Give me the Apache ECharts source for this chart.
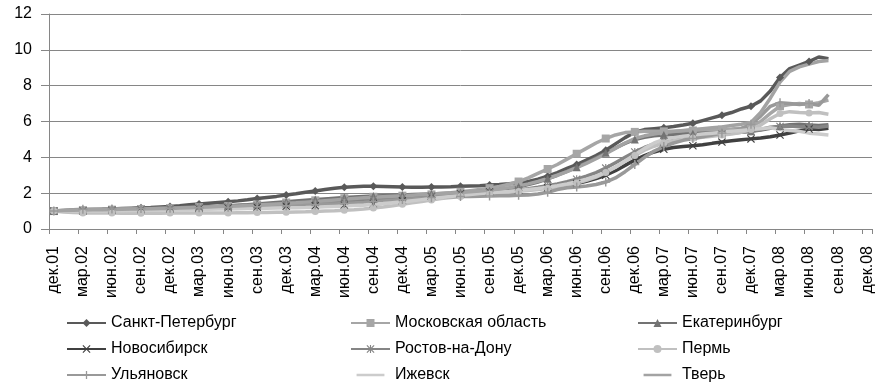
<!DOCTYPE html>
<html>
<head>
<meta charset="utf-8">
<script src="https://cdn.jsdelivr.net/npm/echarts@6/dist/echarts.min.js"></script>
<style>
html,body{margin:0;padding:0;background:#fff;}
#chart{width:890px;height:386px;}
</style>
</head>
<body>
<div id="chart"></div>
<script>
const categories = [
'дек.01',
'янв.02','фев.02','мар.02','апр.02','май.02','июн.02','июл.02','авг.02','сен.02','окт.02','ноя.02','дек.02',
'янв.03','фев.03','мар.03','апр.03','май.03','июн.03','июл.03','авг.03','сен.03','окт.03','ноя.03','дек.03',
'янв.04','фев.04','мар.04','апр.04','май.04','июн.04','июл.04','авг.04','сен.04','окт.04','ноя.04','дек.04',
'янв.05','фев.05','мар.05','апр.05','май.05','июн.05','июл.05','авг.05','сен.05','окт.05','ноя.05','дек.05',
'янв.06','фев.06','мар.06','апр.06','май.06','июн.06','июл.06','авг.06','сен.06','окт.06','ноя.06','дек.06',
'янв.07','фев.07','мар.07','апр.07','май.07','июн.07','июл.07','авг.07','сен.07','окт.07','ноя.07','дек.07',
'янв.08','фев.08','мар.08','апр.08','май.08','июн.08','июл.08','авг.08','сен.08','окт.08','ноя.08','дек.08'
];

const seriesNames = ['Санкт-Петербург','Московская область','Екатеринбург','Новосибирск','Ростов-на-Дону','Пермь','Ульяновск','Ижевск','Тверь'];

const spb = [1.00,1.02,1.05,1.07,1.09,1.10,1.12,1.14,1.16,1.18,1.20,1.23,1.26,
1.30,1.35,1.40,1.44,1.48,1.52,1.57,1.63,1.70,1.76,1.82,1.90,
1.97,2.05,2.12,2.20,2.28,2.33,2.36,2.38,2.38,2.37,2.36,2.34,
2.33,2.33,2.34,2.35,2.36,2.38,2.40,2.42,2.45,2.48,2.52,2.57,
2.65,2.78,2.95,3.15,3.38,3.60,3.85,4.10,4.40,4.75,5.10,5.40,
5.55,5.60,5.65,5.72,5.80,5.90,6.05,6.20,6.35,6.50,6.70,6.85,
7.15,7.70,8.45,8.95,9.15,9.35,9.60,9.50];

const moscow = [1.00,1.02,1.04,1.05,1.06,1.07,1.08,1.09,1.10,1.11,1.12,1.14,1.16,
1.18,1.20,1.22,1.24,1.26,1.28,1.31,1.34,1.37,1.40,1.44,1.48,
1.52,1.56,1.60,1.64,1.68,1.72,1.75,1.78,1.80,1.82,1.84,1.86,
1.88,1.90,1.93,1.97,2.02,2.08,2.14,2.20,2.28,2.38,2.50,2.65,
2.85,3.10,3.35,3.60,3.90,4.20,4.50,4.80,5.05,5.25,5.38,5.42,
5.45,5.45,5.45,5.45,5.48,5.50,5.50,5.52,5.55,5.58,5.62,5.72,
6.00,6.45,6.85,6.95,7.00,6.95,7.05,7.20];

const ekb = [1.00,1.01,1.03,1.04,1.05,1.06,1.08,1.09,1.10,1.12,1.13,1.15,1.17,
1.19,1.21,1.23,1.25,1.27,1.30,1.33,1.36,1.40,1.44,1.48,1.52,
1.56,1.60,1.64,1.68,1.72,1.76,1.79,1.82,1.84,1.86,1.88,1.90,
1.92,1.94,1.96,1.98,2.00,2.03,2.06,2.10,2.14,2.20,2.27,2.36,
2.48,2.62,2.80,3.00,3.22,3.45,3.70,3.98,4.25,4.52,4.78,5.00,
5.12,5.20,5.25,5.28,5.30,5.32,5.34,5.36,5.38,5.40,5.42,5.45,
5.52,5.62,5.75,5.82,5.85,5.80,5.78,5.82];

const nsk = [1.00,1.00,1.01,1.02,1.03,1.04,1.05,1.06,1.07,1.08,1.09,1.10,1.12,
1.13,1.14,1.15,1.16,1.17,1.18,1.20,1.21,1.22,1.23,1.25,1.27,
1.28,1.29,1.30,1.31,1.32,1.33,1.35,1.37,1.40,1.44,1.50,1.58,
1.66,1.74,1.82,1.88,1.93,1.97,2.00,2.03,2.06,2.09,2.12,2.16,
2.20,2.25,2.30,2.36,2.44,2.54,2.66,2.82,3.00,3.25,3.55,3.85,
4.10,4.30,4.45,4.55,4.60,4.65,4.70,4.78,4.85,4.92,4.98,5.03,
5.08,5.15,5.25,5.35,5.48,5.58,5.55,5.62];

const rostov = [1.00,1.01,1.02,1.03,1.04,1.05,1.06,1.07,1.08,1.09,1.10,1.11,1.13,
1.14,1.16,1.18,1.20,1.22,1.24,1.26,1.28,1.30,1.33,1.36,1.39,
1.42,1.45,1.48,1.51,1.54,1.57,1.60,1.63,1.66,1.69,1.72,1.75,
1.78,1.81,1.84,1.87,1.90,1.93,1.96,1.99,2.03,2.07,2.12,2.18,
2.25,2.33,2.42,2.52,2.64,2.78,2.95,3.15,3.40,3.70,4.00,4.30,
4.55,4.75,4.90,5.00,5.08,5.14,5.20,5.25,5.30,5.35,5.40,5.45,
5.55,5.68,5.72,5.75,5.70,5.72,5.68,5.75];

const perm = [1.00,0.95,0.92,0.90,0.90,0.89,0.89,0.88,0.88,0.88,0.88,0.88,0.89,
0.89,0.89,0.90,0.90,0.90,0.90,0.91,0.91,0.92,0.92,0.93,0.94,
0.95,0.96,0.98,1.00,1.02,1.05,1.08,1.12,1.17,1.23,1.30,1.38,
1.46,1.54,1.62,1.70,1.76,1.82,1.87,1.92,1.96,2.00,2.05,2.10,
2.15,2.20,2.27,2.35,2.45,2.57,2.72,2.90,3.15,3.45,3.78,4.10,
4.40,4.62,4.80,4.92,5.00,5.06,5.12,5.18,5.24,5.30,5.40,5.55,
5.80,6.15,6.45,6.55,6.50,6.48,6.50,6.40];

const ulyanovsk = [1.00,1.05,1.08,1.10,1.10,1.12,1.12,1.13,1.13,1.14,1.14,1.15,1.16,
1.17,1.18,1.19,1.20,1.21,1.22,1.23,1.24,1.25,1.26,1.28,1.30,
1.32,1.34,1.36,1.38,1.40,1.42,1.45,1.48,1.52,1.56,1.60,1.64,
1.68,1.72,1.75,1.78,1.80,1.81,1.82,1.83,1.84,1.85,1.86,1.88,
1.90,1.95,2.05,2.20,2.30,2.35,2.40,2.48,2.62,2.85,3.20,3.60,
4.00,4.35,4.60,4.80,4.95,5.05,5.15,5.25,5.35,5.45,5.60,5.85,
6.30,6.85,7.05,7.00,6.95,7.00,6.90,7.50];

const izhevsk = [1.00,1.00,1.00,1.00,1.01,1.01,1.02,1.02,1.03,1.03,1.04,1.05,1.06,
1.07,1.08,1.09,1.10,1.11,1.12,1.13,1.14,1.15,1.16,1.17,1.18,
1.19,1.20,1.22,1.24,1.26,1.28,1.31,1.34,1.38,1.42,1.47,1.52,
1.58,1.64,1.70,1.76,1.82,1.88,1.93,1.98,2.02,2.06,2.10,2.15,
2.20,2.26,2.33,2.42,2.52,2.64,2.78,2.95,3.18,3.45,3.80,4.15,
4.50,4.80,5.00,5.10,5.18,5.24,5.30,5.35,5.40,5.45,5.50,5.55,
5.60,5.65,5.55,5.50,5.45,5.35,5.30,5.25];

const tver = [1.00,1.03,1.05,1.06,1.07,1.08,1.09,1.10,1.11,1.12,1.13,1.14,1.15,
1.17,1.19,1.21,1.23,1.25,1.27,1.29,1.31,1.34,1.37,1.40,1.43,
1.46,1.50,1.54,1.58,1.62,1.66,1.70,1.74,1.77,1.80,1.83,1.86,
1.89,1.92,1.95,1.98,2.01,2.04,2.08,2.12,2.17,2.23,2.30,2.40,
2.52,2.66,2.82,3.00,3.20,3.42,3.66,3.92,4.20,4.50,4.80,5.05,
5.20,5.30,5.38,5.44,5.50,5.55,5.60,5.65,5.70,5.78,5.85,5.95,
6.50,7.30,8.20,8.80,9.05,9.20,9.35,9.40];

const yTicks = [0, 2, 4, 6, 8, 10, 12];

const FONT = '"Liberation Sans", Arial, sans-serif';
const X_SYM = 'path://M1,0 L5,4 L9,0 L10,1 L6,5 L10,9 L9,10 L5,6 L1,10 L0,9 L4,5 L0,1 Z';
const PLUS_SYM = 'path://M4.2,0 L5.8,0 L5.8,4.2 L10,4.2 L10,5.8 L5.8,5.8 L5.8,10 L4.2,10 L4.2,5.8 L0,5.8 L0,4.2 L4.2,4.2 Z';
const STAR_SYM = 'path://M1,0 L5,4 L9,0 L10,1 L6,5 L10,9 L9,10 L5,6 L1,10 L0,9 L4,5 L0,1 Z M4.3,0 L5.7,0 L5.7,10 L4.3,10 Z';
const LINE_ICON = 'path://M0,0L0.01,0L0,0.01Z M0,5.2L39,5.2L39,8.8L0,8.8Z M39,14L38.99,14L39,13.99Z';

const styles = [
  {color:'#595959', symbol:'diamond', size:8},
  {color:'#a6a6a6', symbol:'rect', size:8},
  {color:'#737373', symbol:'triangle', size:8},
  {color:'#404040', symbol:X_SYM, size:8},
  {color:'#858585', symbol:STAR_SYM, size:8},
  {color:'#c0c0c0', symbol:'circle', size:7},
  {color:'#999999', symbol:PLUS_SYM, size:9},
  {color:'#cccccc', symbol:'none', size:0},
  {color:'#a3a3a3', symbol:'none', size:0}
];
const values = [spb, moscow, ekb, nsk, rostov, perm, ulyanovsk, izhevsk, tver];

const series = seriesNames.map((name, k) => ({
  name: name,
  type: 'line',
  data: values[k],
  symbol: styles[k].symbol,
  symbolSize: styles[k].size,
  showSymbol: styles[k].symbol !== 'none',
  lineStyle: {color: styles[k].color, width: 3.5},
  itemStyle: {color: styles[k].color, borderWidth: 0},
  emphasis: {disabled: true},
  animation: false
}));

function legendItem(k) {
  const item = {name: seriesNames[k]};
  if (styles[k].symbol === 'none') {
    item.icon = LINE_ICON;
    item.itemStyle = {color: styles[k].color};
  }
  return item;
}

function legendCol(idx, left) {
  return {
    orient: 'vertical',
    left: left,
    top: 315,
    padding: 0,
    itemWidth: 39,
    itemHeight: 10,
    itemGap: 10,
    data: idx.map(legendItem),
    textStyle: {fontFamily: FONT, fontSize: 16, color: '#000'},
    selectedMode: false
  };
}

const chart = echarts.init(document.getElementById('chart'), null, {renderer: 'canvas'});
chart.setOption({
  animation: false,
  backgroundColor: '#fff',
  grid: {left: 49, right: 18, top: 14, bottom: 157, containLabel: false},
  legend: [
    legendCol([0, 3, 6], 66),
    legendCol([1, 4, 7], 350),
    legendCol([2, 5, 8], 637)
  ],
  xAxis: {
    type: 'category',
    data: categories,
    boundaryGap: true,
    axisLine: {lineStyle: {color: '#868686', width: 1}},
    axisTick: {show: true, interval: 2, length: 5, lineStyle: {color: '#868686'}},
    axisLabel: {interval: 2, rotate: 90, margin: 17, fontFamily: FONT, fontSize: 16, color: '#000'},
    splitLine: {show: false}
  },
  yAxis: {
    type: 'value',
    min: yTicks[0],
    max: yTicks[yTicks.length - 1],
    interval: 2,
    axisLine: {show: true, lineStyle: {color: '#868686', width: 1}},
    axisTick: {show: true, length: 8, lineStyle: {color: '#868686'}},
    axisLabel: {margin: 17, fontFamily: FONT, fontSize: 16, color: '#000'},
    splitLine: {show: true, lineStyle: {color: '#868686', width: 1}}
  },
  series: series
});
</script>
</body>
</html>
